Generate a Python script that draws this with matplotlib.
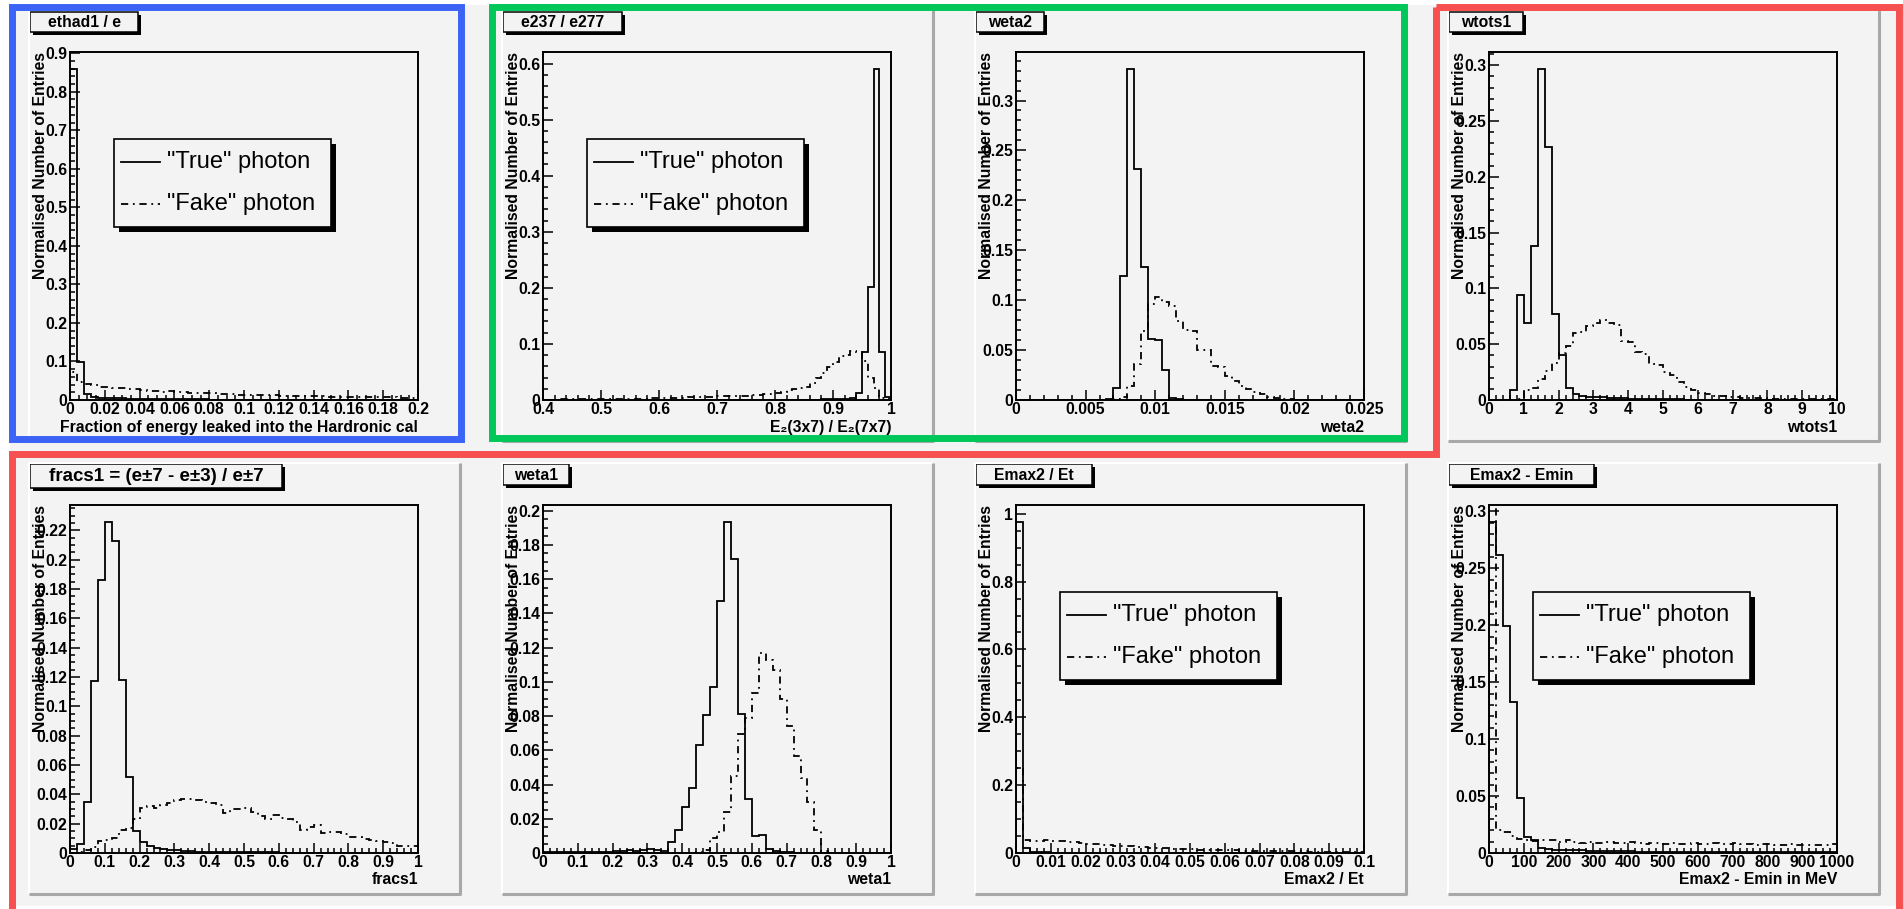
import numpy as np
import matplotlib
matplotlib.use("Agg")
import matplotlib.pyplot as plt
from matplotlib.patches import Rectangle, Polygon
from matplotlib.lines import Line2D
from matplotlib.ticker import MultipleLocator, FuncFormatter

plt.rcParams['font.family'] = ['Liberation Sans', 'DejaVu Sans']
plt.rcParams['font.weight'] = 'bold'

# ---------------- data ----------------
titles = ['ethad1 / e', 'e237 / e277', 'weta2', 'wtots1',
          'fracs1 = (e\u00b17 - e\u00b13) / e\u00b17', 'weta1', 'Emax2 / Et', 'Emax2 - Emin']
xlabels = ['Fraction of energy leaked into the Hardronic cal',
           'E\u2082(3x7) / E\u2082(7x7)', 'weta2', 'wtots1', 'fracs1', 'weta1',
           'Emax2 / Et', 'Emax2 - Emin in MeV']
ylabel = 'Normalised Number of Entries'
legend_labels = ['"True" photon', '"Fake" photon']

x_ranges = [(0, 0.2), (0.4, 1.0), (0, 0.025), (0, 10), (0, 1), (0, 1), (0, 0.1), (0, 1000)]
n_bins = [50, 60, 50, 50, 50, 50, 50, 50]

true_ethad = [0.86, 0.0976, 0.0163, 0.008, 0.006, 0.005, 0.004, 0.004, 0.003, 0.003,
              0.002, 0.002, 0.002, 0.002, 0.002, 0.002, 0.0015, 0.0015, 0.0015, 0.0015,
              0.001, 0.001, 0.001, 0.001, 0.001, 0.001, 0.001, 0.001, 0.001, 0.001,
              0.0008, 0.0008, 0.0008, 0.0008, 0.0008, 0.0006, 0.0006, 0.0006, 0.0006, 0.0006,
              0.0005, 0.0005, 0.0005, 0.0005, 0.0005, 0.0005, 0.0005, 0.0005, 0.0005, 0.0005]
fake_ethad = [0.0735, 0.0475, 0.0405, 0.039, 0.034, 0.033, 0.032, 0.032, 0.029, 0.029,
              0.025, 0.024, 0.024, 0.0215, 0.023, 0.022, 0.020, 0.019, 0.019, 0.018,
              0.018, 0.016, 0.015, 0.015, 0.014, 0.014, 0.013, 0.013, 0.012, 0.012,
              0.011, 0.011, 0.011, 0.010, 0.010, 0.010, 0.010, 0.009, 0.009, 0.009,
              0.008, 0.008, 0.008, 0.008, 0.007, 0.007, 0.007, 0.006, 0.006, 0.006]

true_e237 = [0.0002] * 10 + [0.0003] * 10 + [0.0004] * 10 + [0.0005] * 10 + \
            [0.0005, 0.0005, 0.0006, 0.0006, 0.0007, 0.0007, 0.0008, 0.0008, 0.001, 0.001,
             0.001, 0.0012, 0.0015, 0.003, 0.012, 0.086, 0.201, 0.591, 0.085, 0.005]
fake_e237 = [0.0008, 0.0008, 0.0008, 0.0009, 0.0009, 0.001, 0.001, 0.001, 0.0012, 0.0012,
             0.0015, 0.0015, 0.0018, 0.002, 0.002, 0.0022, 0.0025, 0.0025, 0.0028, 0.003,
             0.003, 0.0033, 0.0036, 0.004, 0.0042, 0.0045, 0.005, 0.0052, 0.0055, 0.006,
             0.0065, 0.0068, 0.007, 0.0075, 0.008, 0.008, 0.0085, 0.009, 0.01, 0.011,
             0.013, 0.015, 0.017, 0.019, 0.021, 0.024, 0.03, 0.04, 0.049, 0.058,
             0.067, 0.079, 0.08, 0.088, 0.085, 0.07, 0.04, 0.022, 0.004, 0.001]

true_weta2 = [0.0005, 0.0005, 0.0005, 0.0003, 0.0003, 0.0003, 0.0003, 0.0003, 0.0005, 0.0005,
              0.0005, 0.0005, 0.0005, 0.001, 0.012, 0.124, 0.332, 0.231, 0.133, 0.0616,
              0.06, 0.0298, 0.002, 0.001, 0.0005, 0.0003, 0, 0, 0, 0] + [0] * 20
fake_weta2 = [0] * 13 + [0.0005, 0.001, 0.003, 0.014, 0.036, 0.069, 0.096, 0.103, 0.098,
                         0.094, 0.079, 0.07, 0.069, 0.05, 0.05, 0.034, 0.033, 0.024, 0.019,
                         0.014, 0.011, 0.008, 0.006, 0.0035, 0.0025, 0.0015, 0.001, 0.0005,
                         0.0005] + [0] * 8

true_wtots = [0, 0, 0, 0.0087, 0.094, 0.069, 0.138, 0.297, 0.227, 0.077,
              0.040, 0.011, 0.005, 0.0036, 0.003, 0.003, 0.0025, 0.002, 0.002, 0.0015,
              0.001, 0.001, 0.0008, 0.0008, 0.0006, 0.0006, 0.0005, 0.0005, 0.0004, 0.0004] + [0.0003] * 20
fake_wtots = [0, 0, 0, 0, 0.001, 0.0087, 0.0105, 0.0186, 0.026, 0.0335,
              0.042, 0.0485, 0.06, 0.061, 0.066, 0.069, 0.0716, 0.069, 0.067, 0.053,
              0.052, 0.043, 0.041, 0.032, 0.031, 0.025, 0.022, 0.016, 0.0117, 0.0087,
              0.0066, 0.005, 0.004, 0.0035, 0.003, 0.0025, 0.002, 0.002, 0.0015, 0.0015,
              0.001, 0.001, 0.001, 0.001, 0.001, 0.0008, 0.0008, 0.0008, 0.0008, 0.0008]

true_fracs = [0.003, 0.006, 0.035, 0.117, 0.186, 0.226, 0.213, 0.118, 0.0518, 0.0148,
              0.0075, 0.0045, 0.0035, 0.0025, 0.002, 0.002, 0.0015, 0.0015, 0.001, 0.001,
              0.001, 0.0008, 0.0008, 0.0006, 0.0006, 0.0005, 0.0005, 0.0005, 0.0004, 0.0004] + [0.0003] * 20
fake_fracs = [0, 0.001, 0.002, 0.004, 0.008, 0.009, 0.0105, 0.016, 0.017, 0.023,
              0.031, 0.032, 0.031, 0.033, 0.034, 0.036, 0.037, 0.037, 0.036, 0.035,
              0.034, 0.033, 0.027, 0.030, 0.030, 0.031, 0.028, 0.025, 0.023, 0.026,
              0.024, 0.023, 0.021, 0.016, 0.018, 0.019, 0.0135, 0.014, 0.014, 0.013,
              0.011, 0.0112, 0.0097, 0.009, 0.008, 0.0075, 0.007, 0.0045, 0.005, 0.005]

true_weta1 = [0.0005, 0.0005, 0.0005, 0.0005, 0.0005, 0.0005, 0.0005, 0.0005, 0.0008, 0.0008,
              0.001, 0.001, 0.0015, 0.001, 0.0015, 0.0025, 0.002, 0.001, 0.0063, 0.0137,
              0.0268, 0.0377, 0.0629, 0.0804, 0.0972, 0.147, 0.1936, 0.1715, 0.081, 0.0318,
              0.0098, 0.0108, 0.0023, 0.001, 0.0005, 0.0003, 0, 0, 0, 0] + [0] * 10
fake_weta1 = [0] * 22 + [0.0005, 0.002, 0.009, 0.0125, 0.0238, 0.045, 0.0693, 0.079, 0.0937,
                         0.1167, 0.113, 0.107, 0.0898, 0.0742, 0.0566, 0.0439, 0.0299, 0.0137,
                         0.001] + [0] * 9

true_emax = [0.977, 0.015, 0.004, 0.002, 0.0015, 0.001, 0.001, 0.001, 0.001, 0.001] + \
            [0.0008] * 10 + [0.0005] * 30
fake_emax = [0.25, 0.037, 0.036, 0.035, 0.037, 0.035, 0.034, 0.033, 0.031, 0.030,
             0.028, 0.027, 0.025, 0.024, 0.022, 0.021, 0.020, 0.018, 0.017, 0.016,
             0.015, 0.014, 0.013, 0.012, 0.012, 0.011, 0.010, 0.010, 0.009, 0.009,
             0.008, 0.008, 0.007, 0.007, 0.007, 0.006, 0.006, 0.006, 0.005, 0.005,
             0.005, 0.005, 0.004, 0.004, 0.004, 0.004, 0.003, 0.003, 0.003, 0.003]

true_emin = [0.291, 0.262, 0.199, 0.133, 0.0487, 0.0139, 0.011, 0.0045, 0.0035, 0.003,
             0.0028, 0.0025, 0.0025, 0.0022, 0.002, 0.002, 0.0018, 0.0016, 0.0015, 0.0015,
             0.0014, 0.0013, 0.0012, 0.0012, 0.0011, 0.001, 0.001, 0.001, 0.001, 0.001,
             0.0009, 0.0009, 0.0008, 0.0008, 0.0008, 0.0007, 0.0007, 0.0007, 0.0006, 0.0006,
             0.0006, 0.0005, 0.0005, 0.0005, 0.0005, 0.0005, 0.0005, 0.0005, 0.0005, 0.0005]
fake_emin = [0.31, 0.0205, 0.018, 0.015, 0.012, 0.011, 0.0105, 0.011, 0.0115, 0.011,
             0.010, 0.011, 0.010, 0.009, 0.010, 0.009, 0.009, 0.010, 0.009, 0.009,
             0.010, 0.009, 0.008, 0.009, 0.009, 0.008, 0.009, 0.008, 0.008, 0.009,
             0.008, 0.008, 0.009, 0.008, 0.008, 0.009, 0.008, 0.008, 0.007, 0.008,
             0.008, 0.007, 0.007, 0.008, 0.007, 0.007, 0.007, 0.007, 0.007, 0.008]

true_series = [true_ethad, true_e237, true_weta2, true_wtots, true_fracs, true_weta1, true_emax, true_emin]
fake_series = [fake_ethad, fake_e237, fake_weta2, fake_wtots, fake_fracs, fake_weta1, fake_emax, fake_emin]

# axis tick steps (major, minor)
x_ticks = [(0.02, 0.005), (0.1, 0.02), (0.005, 0.001), (1, 0.2),
           (0.1, 0.02), (0.1, 0.02), (0.01, 0.002), (100, 20)]
y_ticks = [(0.1, 0.02), (0.1, 0.02), (0.05, 0.01), (0.05, 0.01),
           (0.02, 0.005), (0.02, 0.005), (0.2, 0.05), (0.05, 0.01)]
has_legend = [True, True, False, False, False, False, True, True]

# ---------------- layout (pixels) ----------------
W, H = 1903, 909
PAD_C = '#f3f3f3'
PAD_X = [29, 502, 975, 1448]
PAD_Y = [10, 463]
PW = 431
FOX, FOY, FS = 41, 42, 348
title_w = [108, 119, 68, 74, 252, 66, 116, 145]
title_h = [20, 20, 20, 20, 24, 21, 21, 21]
title_fs = [11.3, 11.3, 11.3, 11.3, 13.5, 11.3, 11.3, 11.3]
FAKE_LS = (0, (4.0, 2.6, 1.0, 2.6))
LW_H = 1.3

fig = plt.figure(figsize=(W / 100, H / 100), dpi=100, facecolor='white')
bg = fig.add_axes([0, 0, 1, 1], zorder=0)
bg.set_xlim(0, W)
bg.set_ylim(H, 0)
bg.axis('off')
bg.add_patch(Rectangle((10, 5), 1888, 901, fc=PAD_C, ec='none'))

fmt = FuncFormatter(lambda v, p: '%g' % round(v, 10))

for i in range(8):
    col, row = i % 4, i // 4
    px, py = PAD_X[col], PAD_Y[row]
    # pad with bevel
    bg.add_patch(Rectangle((px, py), PW, PW, fc=PAD_C, ec='none'))
    bg.plot([px, px, px + PW], [py + PW, py, py], color='white', lw=1.5, solid_capstyle='butt')
    bg.plot([px + PW, px + PW, px], [py, py + PW, py + PW], color='#a8a8a8', lw=2.2,
            solid_capstyle='butt')
    # title box with shadow
    tx, ty = px + 1, py + (2 if row == 0 else 1)
    tw, th = title_w[i], title_h[i]
    bg.add_patch(Rectangle((tx + 3, ty + 3), tw, th, fc='black', ec='none'))
    bg.add_patch(Rectangle((tx, ty), tw, th, fc=PAD_C, ec='black', lw=1.1))
    bg.text(tx + tw / 2, ty + th / 2 + 0.5, titles[i], ha='center', va='center',
            fontsize=title_fs[i], fontweight='bold')

    # frame axes
    fl, ft = px + FOX, py + FOY
    ax = fig.add_axes([fl / W, 1 - (ft + FS) / H, FS / W, FS / H], zorder=2)
    ax.set_facecolor(PAD_C)
    xmin, xmax = x_ranges[i]
    edges = np.linspace(xmin, xmax, n_bins[i] + 1)
    tv = np.array(true_series[i], dtype=float)
    fv = np.array(fake_series[i], dtype=float)
    ax.stairs(tv, edges, baseline=0, fill=False, color='black', lw=LW_H)
    ax.stairs(fv, edges, baseline=0, fill=False, color='black', lw=LW_H, linestyle=FAKE_LS)
    ax.set_xlim(xmin, xmax)
    ax.set_ylim(0, 1.05 * tv.max())

    ax.xaxis.set_major_locator(MultipleLocator(x_ticks[i][0]))
    ax.xaxis.set_minor_locator(MultipleLocator(x_ticks[i][1]))
    ax.yaxis.set_major_locator(MultipleLocator(y_ticks[i][0]))
    ax.yaxis.set_minor_locator(MultipleLocator(y_ticks[i][1]))
    ax.xaxis.set_major_formatter(fmt)
    ax.yaxis.set_major_formatter(fmt)
    ax.tick_params(which='both', direction='in', top=False, right=False,
                   labelsize=11.3, width=1.1, color='black')
    ax.tick_params(which='major', length=7.5)
    ax.tick_params(which='minor', length=3.7)
    ax.tick_params(axis='x', which='major', pad=1.5)
    ax.tick_params(axis='y', which='major', pad=2)
    for s in ax.spines.values():
        s.set_linewidth(1.4)
        s.set_color('black')

    ax.set_xlabel(xlabels[i], fontsize=11.3, fontweight='bold')
    ax.xaxis.label.set_ha('right')
    ax.xaxis.label.set_va('center')
    ax.xaxis.set_label_coords(1.0, -27 / FS)
    ax.set_ylabel(ylabel, fontsize=11.3, fontweight='bold')
    ax.yaxis.label.set_ha('right')
    ax.yaxis.label.set_va('center')
    ax.yaxis.set_label_coords(-29 / FS, 1.0)

    if has_legend[i]:
        lx0, ly0, lw_, lh_ = 44 / FS, 0.497, 217 / FS, 0.253
        sh = 5 / FS
        ax.add_patch(Rectangle((lx0 + sh, ly0 - sh), lw_, lh_, transform=ax.transAxes,
                               fc='black', ec='none', zorder=5))
        ax.add_patch(Rectangle((lx0, ly0), lw_, lh_, transform=ax.transAxes,
                               fc=PAD_C, ec='black', lw=1.2, zorder=6))
        ys = [(400 - 162) / FS, (400 - 204) / FS]
        styles = ['-', FAKE_LS]
        for k in range(2):
            ax.add_line(Line2D([lx0 + 7 / FS, lx0 + 46 / FS], [ys[k], ys[k]],
                               transform=ax.transAxes, color='black', lw=LW_H,
                               linestyle=styles[k], zorder=7))
            ax.text(lx0 + 53 / FS, ys[k], legend_labels[k], transform=ax.transAxes,
                    ha='left', va='center', fontsize=17, fontweight='normal', zorder=7)

# coloured annotation boxes
ov = fig.add_axes([0, 0, 1, 1], zorder=20)
ov.set_xlim(0, W)
ov.set_ylim(H, 0)
ov.axis('off')
ov.patch.set_alpha(0)
ov.add_patch(Rectangle((11.5, 6.5), 449, 432.5, fill=False, ec='#3b63f6', lw=5,
                       joinstyle='miter'))
ov.add_patch(Rectangle((491.5, 6.5), 912.5, 431.5, fill=False, ec='#00c759', lw=5,
                       joinstyle='miter'))
ov.add_patch(Polygon([(1436, 6.5), (1899, 6.5), (1899, 925), (11.5, 925), (11.5, 454),
                      (1436, 454)], closed=True, fill=False, ec='#f65050', lw=5,
                     joinstyle='miter'))

fig.savefig('out.png', dpi=100, facecolor='white')
